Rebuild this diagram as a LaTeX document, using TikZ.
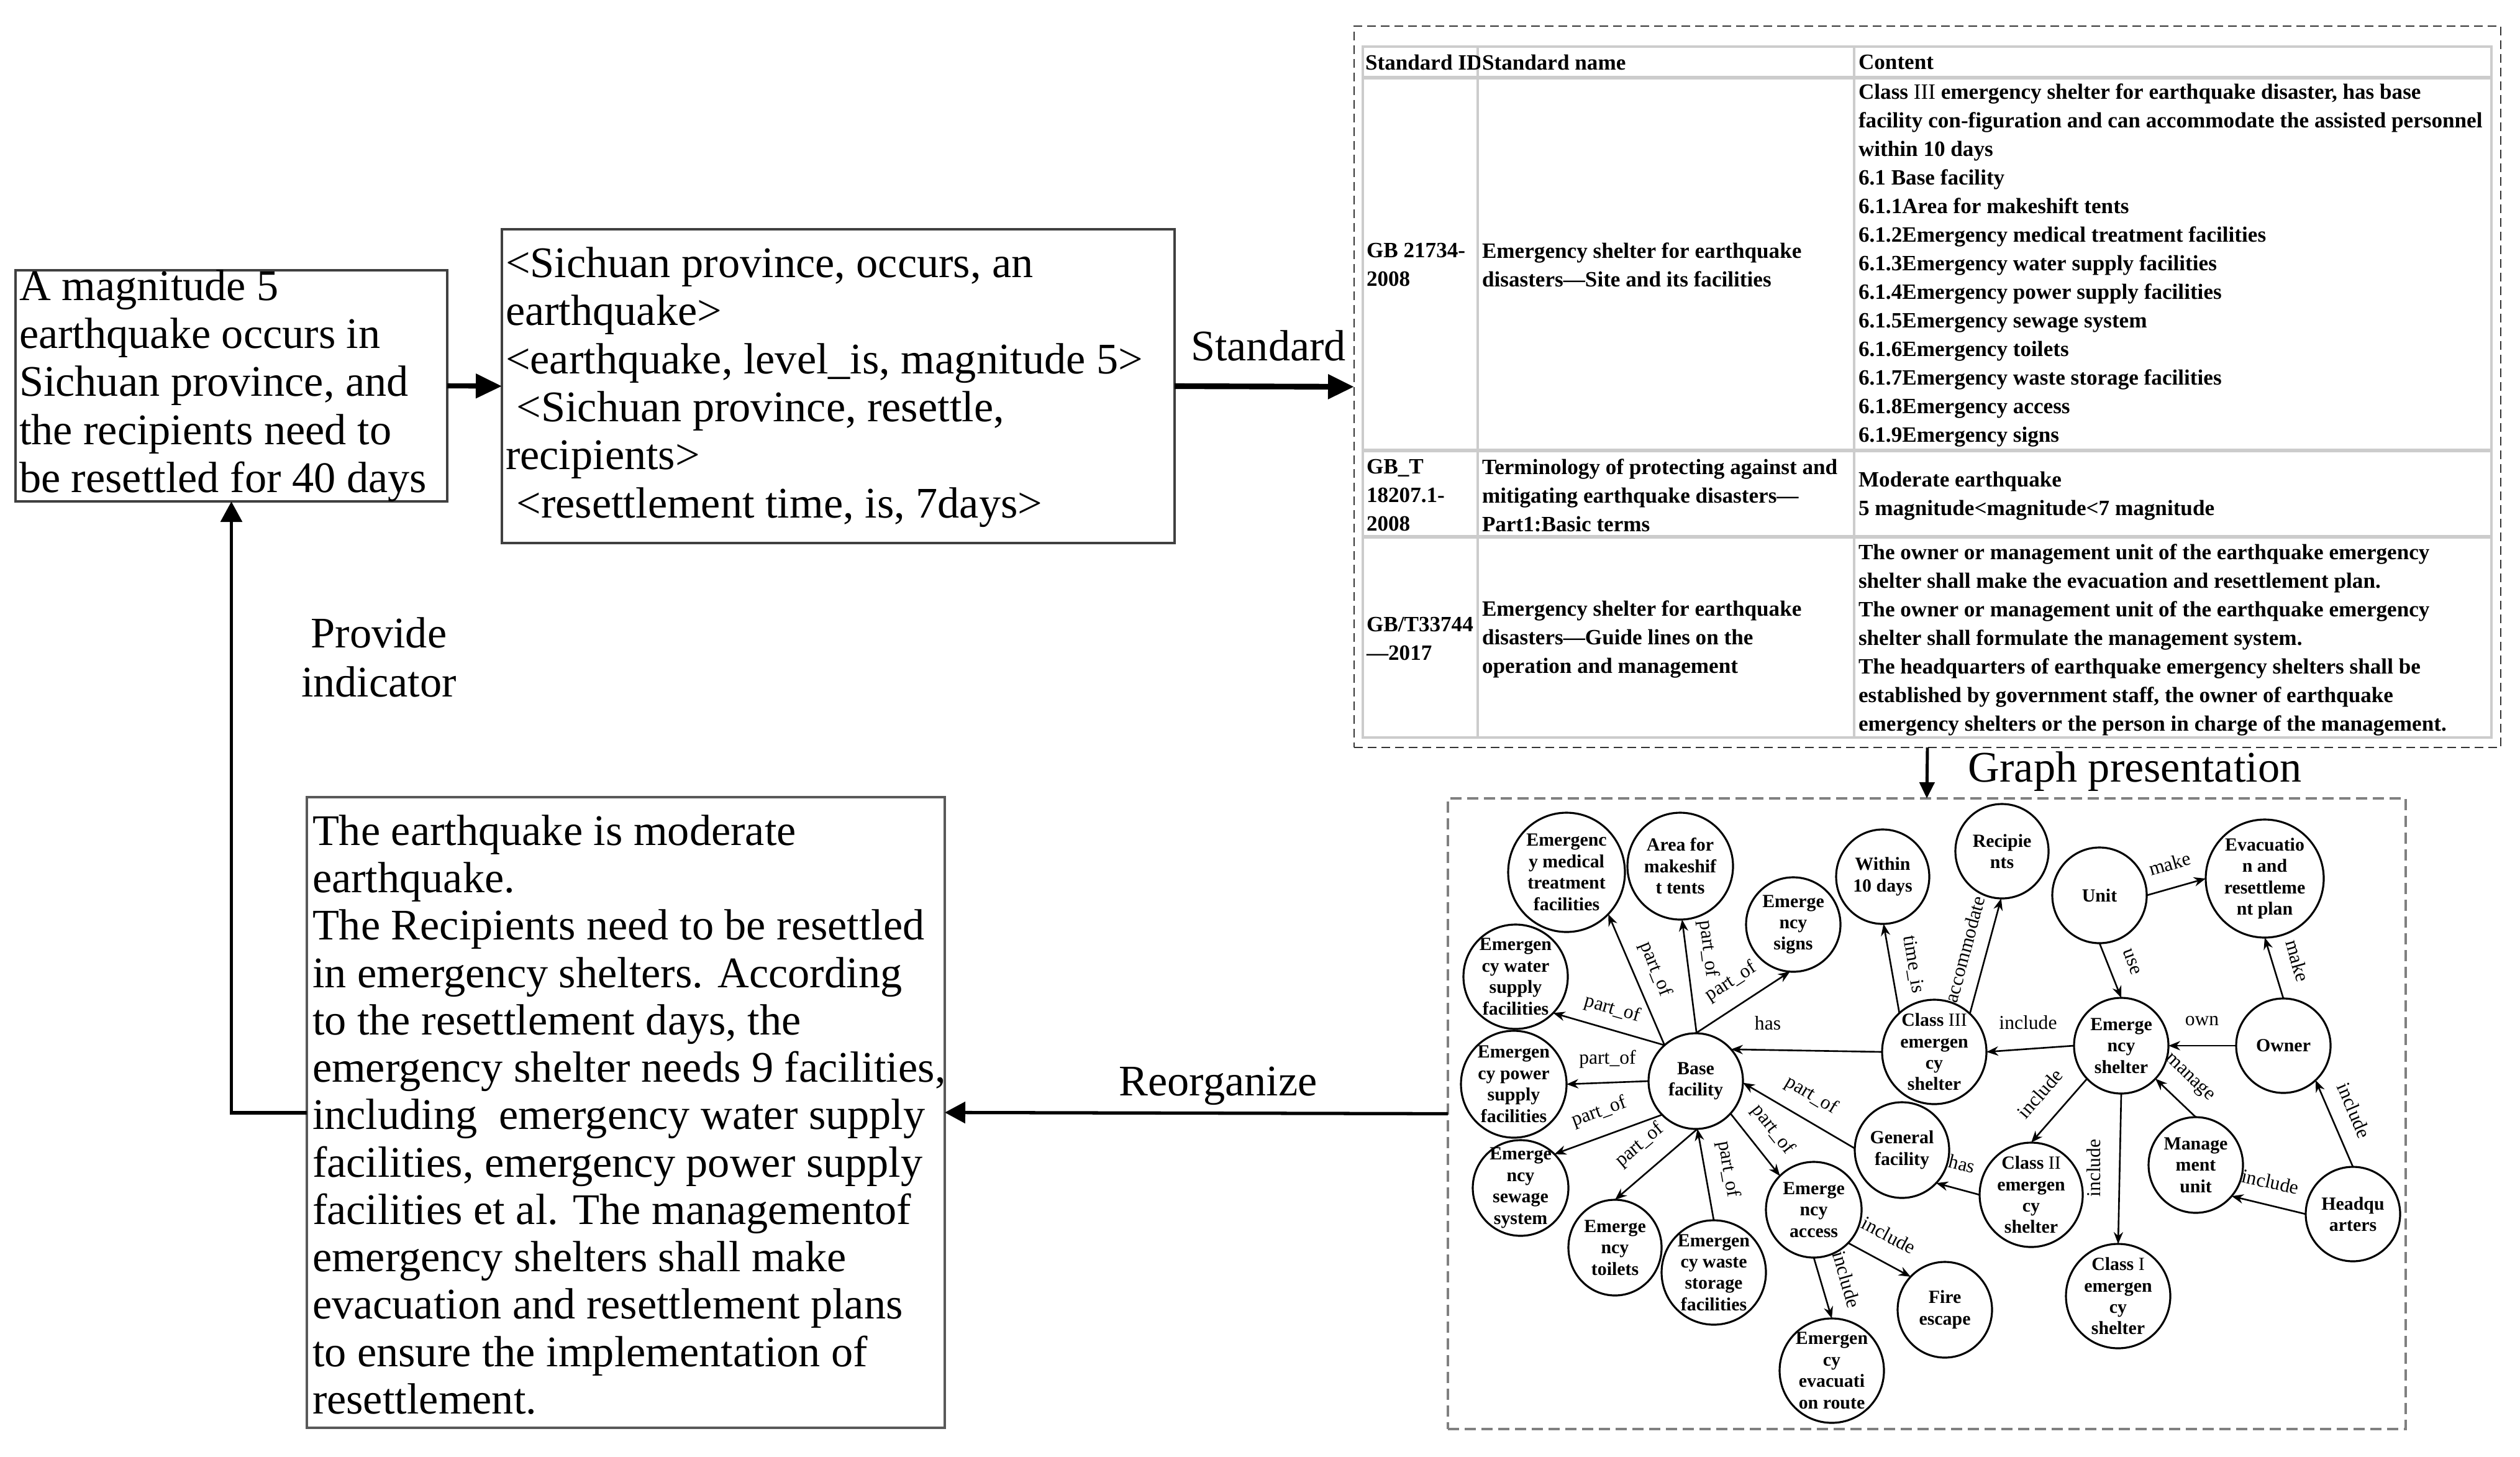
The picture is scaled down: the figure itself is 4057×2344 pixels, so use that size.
\documentclass[tikz,border=0pt]{standalone}
\usepackage{fontspec}
\setmainfont{Liberation Serif}
\usetikzlibrary{arrows.meta,shapes.geometric}
\begin{document}
\begin{tikzpicture}[x=0.1mm,y=-0.1mm,
  every node/.style={inner sep=0pt,outer sep=0pt},
  boxline/.style={draw=black!75,line width=1.1pt},
  maintxt/.style={font=\fontsize{20}{22}\selectfont,align=left,anchor=west},
  bigtxt/.style={font=\fontsize{20}{22.5}\selectfont,align=center},
  tabtxt/.style={font=\bfseries\fontsize{10}{13.1}\selectfont,align=left,anchor=west},
  gridline/.style={draw=black!20,line width=1.2pt},
  ntxt/.style={font=\bfseries\fontsize{8.5}{9.8}\selectfont,align=center},
  gn/.style n args={3}{ellipse,draw=black,line width=0.9pt,minimum width=#1*0.1mm,minimum height=#2*0.1mm,label={[ntxt]center:{#3}}},
  lab/.style={font=\fontsize{9}{10}\selectfont},
  ge/.style={draw=black,line width=0.75pt,-{Stealth[length=1.9mm,width=1.5mm]}},
  bigarrow/.style={draw=black,line width=2.3pt,-{Triangle[length=4.2mm,width=3.8mm]}},
  midarrow/.style={draw=black,line width=1.7pt,-{Triangle[length=3.3mm,width=3.4mm]}},
  smallarrow/.style={draw=black,line width=1.4pt,-{Triangle[length=2.6mm,width=2.4mm]}}
]
\path[fill=white] (0,0) rectangle (4057,2344);

% ---------- left boxes ----------
\node[boxline,minimum width=695*0.1mm,minimum height=372*0.1mm] (b1) at (372.5,621) {};
\node[maintxt] (t1) at (31,621) {A magnitude 5\\earthquake occurs in\\Sichuan province, and\\the recipients need to\\be resettled for 40 days};

\node[boxline,minimum width=1083*0.1mm,minimum height=505*0.1mm] (b2) at (1349.5,621.5) {};
\node[maintxt] (t2) at (814,623) {<Sichuan province, occurs, an\\earthquake>\\<earthquake, level\_is, magnitude 5>\\\hspace*{5pt}<Sichuan province, resettle,\\recipients>\\\hspace*{5pt}<resettlement time, is, 7days>};

\node[boxline,draw=black!65,minimum width=1027*0.1mm,minimum height=1015*0.1mm] (b3) at (1007.5,1790.5) {};
\node[maintxt,font=\fontsize{20}{21.7}\selectfont] (t3) at (503,1794) {The earthquake is moderate\\earthquake.\\The Recipients need to be resettled\\in emergency shelters. According\\to the resettlement days, the\\emergency shelter needs 9 facilities,\\including~ emergency water supply\\facilities, emergency power supply\\facilities et al. The managementof\\emergency shelters shall make\\evacuation and resettlement plans\\to ensure the implementation of\\resettlement.};

% ---------- table ----------
\node[draw=black!80,line width=0.8pt,dash pattern=on 1.4mm off 0.8mm,minimum width=1846*0.1mm,minimum height=1161*0.1mm] (tbl) at (3103,622.5) {};
\draw[gridline] (2194,75) rectangle (4011,1187);
\draw[gridline] (2379,75) -- (2379,1187);
\draw[gridline] (2985,75) -- (2985,1187);
\draw[gridline,line width=1.8pt] (2194,125) -- (4011,125);
\draw[gridline,line width=1.8pt] (2194,725) -- (4011,725);
\draw[gridline,line width=1.8pt] (2194,864) -- (4011,864);

\begin{scope}
\clip (2194,75) rectangle (2382,125);
\node[tabtxt] (h1) at (2198,100) {Standard ID};
\end{scope}
\node[tabtxt] (h2) at (2386,100) {Standard name};
\node[tabtxt] (h3) at (2992,100) {Content};

\node[tabtxt] (r1a) at (2200,426) {GB 21734-\\2008};
\node[tabtxt] (r1b) at (2386,426) {Emergency shelter for earthquake\\disasters—Site and its facilities};
\node[tabtxt] (r1c) at (2992,427) {Class {\mdseries III} emergency shelter for earthquake disaster, has base\\facility con-figuration and can accommodate the assisted personnel\\within 10 days\\6.1 Base facility\\6.1.1Area for makeshift tents\\6.1.2Emergency medical treatment facilities\\6.1.3Emergency water supply facilities\\6.1.4Emergency power supply facilities\\6.1.5Emergency sewage system\\6.1.6Emergency toilets\\6.1.7Emergency waste storage facilities\\6.1.8Emergency access\\6.1.9Emergency signs};

\node[tabtxt] (r2a) at (2200,797) {GB\_T\\18207.1-\\2008};
\node[tabtxt] (r2b) at (2386,797) {Terminology of protecting against and\\mitigating earthquake disasters—\\Part1:Basic terms};
\node[tabtxt] (r2c) at (2992,798) {Moderate earthquake\\5 magnitude<magnitude<7 magnitude};

\node[tabtxt] (r3a) at (2200,1028) {GB/T33744\\—2017};
\node[tabtxt] (r3b) at (2386,1029) {Emergency shelter for earthquake\\disasters—Guide lines on the\\operation and management};
\node[tabtxt] (r3c) at (2992,1030) {The owner or management unit of the earthquake emergency\\shelter shall make the evacuation and resettlement plan.\\The owner or management unit of the earthquake emergency\\shelter shall formulate the management system.\\The headquarters of earthquake emergency shelters shall be\\established by government staff, the owner of earthquake\\emergency shelters or the person in charge of the management.};

% ---------- graph box ----------
\node[draw=black!50,line width=1.1pt,dash pattern=on 1.8mm off 0.9mm,minimum width=1542*0.1mm,minimum height=1015*0.1mm] (gbox) at (3102,1792.5) {};

% ---------- main connectors ----------
\draw[bigarrow] (b1.east) -- (b2.west);
\draw[bigarrow,line width=2.6pt] (b2.east) -- (tbl.west);
\node[bigtxt] (lstd) at (2042,556) {Standard};
\draw[smallarrow] (tbl.south) -- (gbox.north);
\node[bigtxt] (lgraph) at (3437,1242) {Graph presentation};
\draw[midarrow,line width=1.5pt] (gbox.west) -- (b3.east);
\node[bigtxt] (lreo) at (1961,1748) {Reorganize};
\draw[midarrow] (b3.west) -| (b1.south);
\node[bigtxt] (lprov) at (610,1058) {Provide\\indicator};

% ---------- graph nodes ----------
\node[gn={188}{192}{Emergenc\\y medical\\treatment\\facilities}] (med) at (2522,1404) {};
\node[gn={170}{172}{Area for\\makeshif\\t tents}] (area) at (2705,1394) {};
\node[gn={152}{152}{Emerge\\ncy\\signs}] (signs) at (2887,1488) {};
\node[gn={150}{152}{Within\\10 days}] (within) at (3031,1411) {};
\node[gn={150}{152}{Recipie\\nts}] (recip) at (3223,1370) {};
\node[gn={152}{154}{Unit}] (unit) at (3380,1441) {};
\node[gn={190}{190}{Evacuatio\\n and\\resettleme\\nt plan}] (evac) at (3646,1414) {};
\node[gn={168}{168}{Class {\mdseries III}\\emergen\\cy\\shelter}] (c3) at (3114,1693) {};
\node[gn={152}{154}{Emerge\\ncy\\shelter}] (es) at (3415,1683) {};
\node[gn={152}{152}{Owner}] (owner) at (3676,1683) {};
\node[gn={152}{154}{Base\\facility}] (base) at (2730,1740) {};
\node[gn={168}{168}{Emergen\\cy water\\supply\\facilities}] (water) at (2440,1572) {};
\node[gn={170}{172}{Emergen\\cy power\\supply\\facilities}] (power) at (2437,1745) {};
\node[gn={154}{154}{Emerge\\ncy\\sewage\\system}] (sewage) at (2448,1912) {};
\node[gn={150}{154}{Emerge\\ncy\\toilets}] (toilets) at (2600,2008) {};
\node[gn={168}{168}{Emergen\\cy waste\\storage\\facilities}] (waste) at (2759,2048) {};
\node[gn={154}{154}{Emerge\\ncy\\access}] (access) at (2920,1947) {};
\node[gn={168}{168}{Emergen\\cy\\evacuati\\on route}] (route) at (2949,2206) {};
\node[gn={152}{154}{General\\facility}] (general) at (3062,1851) {};
\node[gn={152}{154}{Fire\\escape}] (fire) at (3131,2108) {};
\node[gn={166}{168}{Class {\mdseries II}\\emergen\\cy\\shelter}] (c2) at (3270,1923) {};
\node[gn={168}{168}{Class {\mdseries I}\\emergen\\cy\\shelter}] (c1) at (3410,2086) {};
\node[gn={152}{154}{Manage\\ment\\unit}] (mgmt) at (3535,1875) {};
\node[gn={152}{152}{Headqu\\arters}] (hq) at (3788,1954) {};

% ---------- graph edges ----------
\draw[ge] (base.131) -- (med.-45);
\node[lab,rotate=-68] (e1) at (2665,1560) {part\_of};
\draw[ge] (base.89) -- (area.-88);
\node[lab,rotate=-83] (e2) at (2750,1527) {part\_of};
\draw[ge] (base.90) -- (signs.-94);
\node[lab,rotate=33] (e3) at (2787,1580) {part\_of};
\draw[ge] (base.131) -- (water.-44.5);
\node[lab,rotate=-16] (e4) at (2596,1624) {part\_of};
\draw[ge] (base.180) -- (power.0);
\node[lab] (e5) at (2588,1705) {part\_of};
\draw[ge] (base.225) -- (sewage.45);
\node[lab,rotate=20] (e6) at (2575,1790) {part\_of};
\draw[ge] (base.-88) -- (toilets.90);
\node[lab,rotate=40] (e7) at (2640,1843) {part\_of};
\draw[ge] (waste.90) -- (base.-88);
\node[lab,rotate=-80] (e8) at (2782,1882) {part\_of};
\draw[ge] (base.-43.5) -- (access.135.5);
\node[lab,rotate=-52] (e9) at (2854,1818) {part\_of};
\draw[ge] (general.178) -- (base.-2);
\node[lab,rotate=-31] (e10) at (2916,1763) {part\_of};
\draw[ge] (c3.180) -- (base.42);
\node[lab] (e11) at (2846,1647) {has};
\draw[ge] (c3.132) -- (within.-89);
\node[lab,rotate=-81] (e12) at (3080,1552) {time\_is};
\draw[ge] (c3.47) -- (recip.-91);
\node[lab,rotate=75] (e13) at (3163,1528) {accommodate};
\draw[ge] (es.180) -- (c3.0);
\node[lab] (e14) at (3265,1646) {include};
\draw[ge] (unit.-90) -- (es.90);
\node[lab,rotate=-70] (e15) at (3432,1548) {use};
\draw[ge] (unit.0) -- (evac.180);
\node[lab,rotate=16] (e16) at (3493,1390) {make};
\draw[ge] (owner.90) -- (evac.-90);
\node[lab,rotate=-74] (e17) at (3699,1546) {make};
\draw[ge] (owner.180) -- (es.0);
\node[lab] (e18) at (3545,1643) {own};
\draw[ge] (mgmt.90) -- (es.-44.5);
\node[lab,rotate=-44] (e19) at (3524,1735) {manage};
\draw[ge] (es.224) -- (c2.90);
\node[lab,rotate=49] (e20) at (3284,1760) {include};
\draw[ge] (es.-90) -- (c1.90);
\node[lab,rotate=90] (e21) at (3371,1880) {include};
\draw[ge] (hq.90) -- (owner.-47);
\node[lab,rotate=-67] (e22) at (3790,1787) {include};
\draw[ge] (hq.180) -- (mgmt.-41);
\node[lab,rotate=-12] (e23) at (3655,1902) {include};
\draw[ge] (c2.180) -- (general.-44);
\node[lab,rotate=-14] (e24) at (3159,1873) {has};
\draw[ge] (access.-44.5) -- (fire.136.5);
\node[lab,rotate=-28] (e25) at (3041,1988) {include};
\draw[ge] (access.-90) -- (route.90);
\node[lab,rotate=-74] (e26) at (2973,2059) {include};
\end{tikzpicture}
\end{document}
